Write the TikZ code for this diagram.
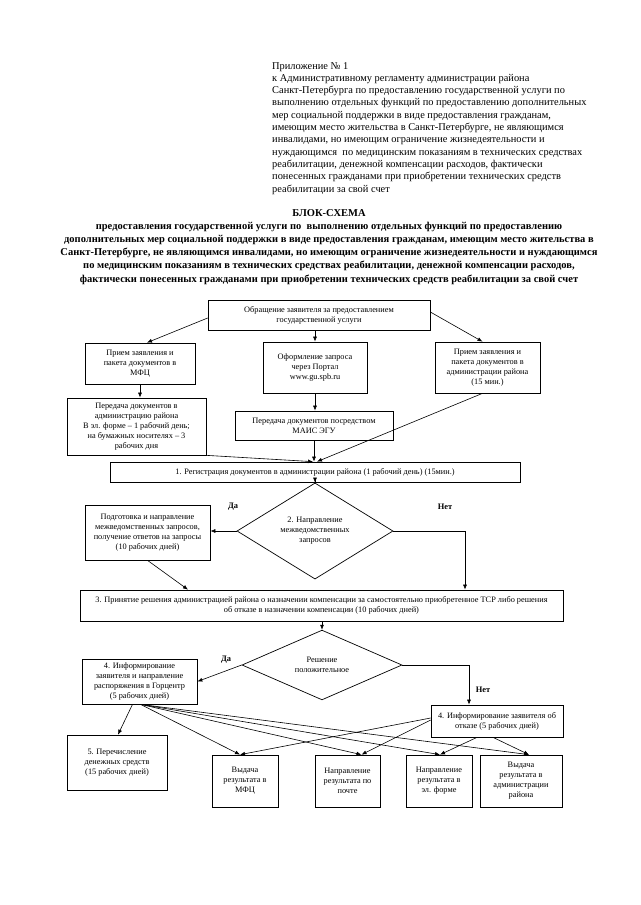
\documentclass[tikz,border=0pt]{standalone}
\usepackage{fontspec}
\setmainfont{Liberation Serif}
\usetikzlibrary{shapes.geometric,arrows.meta}
\begin{document}
\begin{tikzpicture}[x=1pt,y=-1pt,
  box/.style={draw, line width=0.7pt, align=center, inner sep=1pt, font=\fontsize{8.3}{9.9}\selectfont},
  dia/.style={draw, diamond, line width=0.7pt, align=center, inner sep=0pt, font=\fontsize{8.3}{9.9}\selectfont},
  arr/.style={line width=0.6pt, -{Latex[length=5pt,width=4pt]}},
  lbl/.style={font=\bfseries\fontsize{8.4}{9.9}\selectfont, inner sep=0pt}]
\useasboundingbox[fill=white] (0,0) rectangle (640,905);

% header
\node[anchor=north west, align=left, inner sep=0pt, font=\fontsize{10.4}{12.3}\selectfont] (hdr) at (272,62) {%
Приложение № 1\\
к Административному регламенту администрации района\\
Санкт-Петербурга по предоставлению государственной услуги по\\
выполнению отдельных функций по предоставлению дополнительных\\
мер социальной поддержки в виде предоставления гражданам,\\
имеющим место жительства в Санкт-Петербурге, не являющимся\\
инвалидами, но имеющим ограничение жизнедеятельности и\\
нуждающимся \ по медицинским показаниям в технических средствах\\
реабилитации, денежной компенсации расходов, фактически\\
понесенных гражданами при приобретении технических средств\\
реабилитации за свой счет};

% title
\node[anchor=north, align=center, inner sep=0pt, font=\bfseries\fontsize{10.5}{13.2}\selectfont] (ttl) at (329,209) {%
БЛОК-СХЕМА\\
предоставления государственной услуги по \ выполнению отдельных функций по предоставлению\\
дополнительных мер социальной поддержки в виде предоставления гражданам, имеющим место жительства в\\
Санкт-Петербурге, не являющимся инвалидами, но имеющим ограничение жизнедеятельности и нуждающимся\\
по медицинским показаниям в технических средствах реабилитации, денежной компенсации расходов,\\
фактически понесенных гражданами при приобретении технических средств реабилитации за свой счет};

% boxes
\node[box, minimum width=222pt, minimum height=30pt] (A) at (319,315) {Обращение заявителя за предоставлением\\государственной услуги};
\node[box, minimum width=110pt, minimum height=41pt] (B1) at (140,363.5) {Прием заявления и\\пакета документов в\\МФЦ};
\node[box, minimum width=104pt, minimum height=51pt] (B2) at (315,367.5) {Оформление запроса\\через Портал\\www.gu.spb.ru};
\node[box, minimum width=105pt, minimum height=51pt] (B3) at (487.5,367.5) {Прием заявления и\\пакета документов в\\администрации района\\(15 мин.)};
\node[box, minimum width=139pt, minimum height=57pt] (C1) at (136.5,426.5) {Передача документов в\\администрацию района\\В эл. форме – 1 рабочий день;\\на бумажных носителях – 3\\рабочих дня};
\node[box, minimum width=158pt, minimum height=29pt] (C2) at (314,425.5) {Передача документов посредством\\МАИС ЭГУ};
\node[box, minimum width=410pt, minimum height=20pt] (D) at (315,472) {1. Регистрация документов в администрации района (1 рабочий день) (15мин.)};
\node[dia, minimum width=156pt, minimum height=78pt] (E) at (315,531) {2. Направление\\межведомственных\\запросов};
\node[box, minimum width=125pt, minimum height=55pt] (F) at (147.5,532.5) {Подготовка и направление\\межведомственных запросов,\\получение ответов на запросы\\(10 рабочих дней)};
\node[box, minimum width=483pt, minimum height=31pt] (G) at (321.5,605.5) {3. Принятие решения администрацией района о назначении компенсации за самостоятельно приобретенное ТСР либо решения\\об отказе в назначении компенсации (10 рабочих дней)};
\node[dia, minimum width=160pt, minimum height=57pt] (H) at (322,665) {Решение\\положительное};
\node[box, minimum width=115pt, minimum height=45pt] (I) at (139.5,681.5) {4. Информирование\\заявителя и направление\\распоряжения в Горцентр\\(5 рабочих дней)};
\node[box, minimum width=132pt, minimum height=32pt] (J) at (497,721) {4. Информирование заявителя об\\отказе (5 рабочих дней)};
\node[box, minimum width=100pt, minimum height=55pt] (K) at (117,762.5) {5. Перечисление\\денежных средств\\(15 рабочих дней)};
\node[box, minimum width=66pt, minimum height=52pt] (L1) at (245,781) {Выдача\\результата в\\МФЦ};
\node[box, minimum width=65pt, minimum height=52pt] (L2) at (347.5,781) {Направление\\результата по\\почте};
\node[box, minimum width=66pt, minimum height=52pt] (L3) at (439,781) {Направление\\результата в\\эл. форме};
\node[box, minimum width=82pt, minimum height=52pt] (L4) at (521,781) {Выдача\\результата в\\администрации\\района};

% labels
\node[lbl] (da1) at (233,507) {Да};
\node[lbl] (net1) at (445,507) {Нет};
\node[lbl] (da2) at (226,660) {Да};
\node[lbl] (net2) at (483,690) {Нет};

% connectors
\draw[arr] ([yshift=-3pt]A.west) -- ([xshift=7pt]B1.north);
\draw[arr] (B2.north |- A.south) -- (B2.north);
\draw[arr] ([yshift=3pt]A.east) -- ([xshift=-5pt]B3.north);
\draw[arr] (B1.south) -- (B1.south |- C1.north);
\draw[arr] (B2.south) -- (B2.south |- C2.north);
\draw[arr] (C1.south east) -- ([xshift=-2pt]D.north);
\draw[arr] (C2.south) -- (C2.south |- D.north);
\draw[arr] ([xshift=-5pt]B3.south) -- ([xshift=2pt]D.north);
\draw[arr] (D.south) -- (E.north);
\draw[arr] (E.west) -- (F.east |- E.west);
\draw[arr] (F.south) -- ([xshift=-133.5pt]G.north);
\draw[arr] (E.east) -| ([xshift=143.5pt]G.north);
\draw[arr] (H.north |- G.south) -- (H.north);
\draw[arr] (H.west) -- (I.east);
\draw[arr] (H.east) -| ([xshift=-28pt]J.north);
\draw[arr] ([xshift=-7pt]I.south) -- ([xshift=1pt]K.north);
\draw[arr] ([xshift=1pt]I.south) -- ([xshift=-5pt]L1.north);
\draw[arr] ([xshift=1pt]I.south) -- ([xshift=14pt]L2.north);
\draw[arr] ([xshift=1pt]I.south) -- ([xshift=1pt]L3.north);
\draw[arr] ([xshift=1pt]I.south) -- ([xshift=8pt]L4.north);
\draw[arr] ([yshift=3pt]J.west) -- ([xshift=-5pt]L1.north);
\draw[arr] ([yshift=1pt]J.west) -- ([xshift=14pt]L2.north);
\draw[arr] ([xshift=-20pt]J.south) -- ([xshift=1pt]L3.north);
\draw[arr] ([xshift=-4pt]J.south) -- ([xshift=8pt]L4.north);
\end{tikzpicture}
\end{document}
